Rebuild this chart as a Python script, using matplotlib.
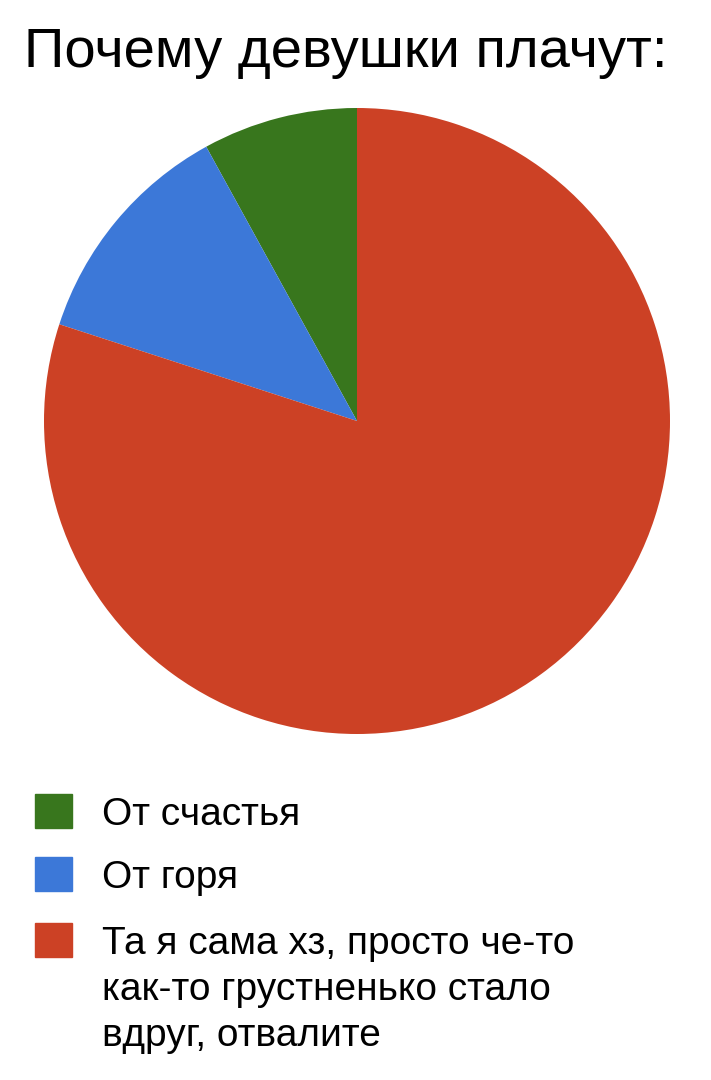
import matplotlib.pyplot as plt
from matplotlib.patches import Rectangle

plt.rcParams['font.family'] = ['Liberation Sans', 'DejaVu Sans']

title = 'Почему девушки плачут:'
labels = ['От счастья', 'От горя',
          'Та я сама хз, просто че-то\nкак-то грустненько стало\nвдруг, отвалите']
values = [8, 12, 80]
colors = ['#38761d', '#3c78d8', '#cc4125']

W, H = 711, 1080
fig = plt.figure(figsize=(W / 100, H / 100), dpi=100)

# pie centre (357, 421) px, radius 313 px
cx, cy, r = 357, 421, 313
ax = fig.add_axes([(cx - r) / W, (H - cy - r) / H, 2 * r / W, 2 * r / H])
ax.pie(values, colors=colors, startangle=90, counterclock=True,
       radius=1, wedgeprops=dict(linewidth=0))
ax.set_xlim(-1, 1)
ax.set_ylim(-1, 1)
ax.set_aspect('equal')
ax.axis('off')

fig.text(346 / W, 1 - 67 / H, title, ha='center', va='baseline', fontsize=40.5, color='black')

# legend: square tops and last-line baselines in px (46 px per line)
sq_tops = [794, 857, 923]
line_h = 46
for i, (top, lab, col) in enumerate(zip(sq_tops, labels, colors)):
    fig.patches.append(Rectangle((35 / W, 1 - (top + 34) / H), 37 / W, 34 / H,
                                 transform=fig.transFigure, color=col))
    base = top + 31 + line_h * lab.count('\n')
    fig.text(102 / W, 1 - base / H, lab, ha='left', va='baseline', fontsize=28,
             color='black', linespacing=1.35)

fig.savefig('out.png', dpi=100)
